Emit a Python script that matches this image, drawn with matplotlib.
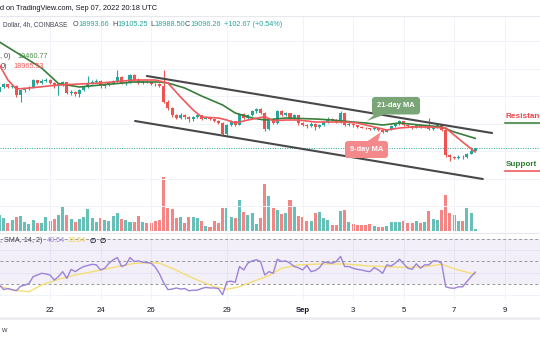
import numpy as np
import matplotlib
matplotlib.use("Agg")
import matplotlib.pyplot as plt
from matplotlib.patches import FancyBboxPatch, Polygon, Rectangle

plt.rcParams['font.family'] = ['Liberation Sans', 'DejaVu Sans']

W, H = 540, 340

# BTC/USD 4h candles, Aug 20 00:00 -> Sep 7 20:00 UTC
opens = [21160, 21340, 21420, 21330, 21380, 21020, 21210, 21260, 21300, 21570,
         21480, 21560, 21590, 21480, 21350, 21420, 21500, 21120, 21160, 21080,
         21210, 21330, 21480, 21520, 21560, 21350, 21420, 21470, 21540, 21700,
         21460, 21520, 21760, 21600, 21480, 21560, 21500, 21450, 21420, 21380,
         20800, 20560, 20300, 20200, 20320, 20240, 20150, 20250, 20300, 20180,
         20230, 20150, 20080, 20020, 19620, 19950, 20080, 19950, 20350, 20200,
         20300, 20450, 20520, 20380, 19800, 20150, 20020, 20450, 20320, 20370,
         20200, 20300, 20020, 19950, 19900, 20000, 19880, 19950, 20050, 20180,
         20120, 20050, 20380, 19950, 20000, 19930, 19880, 19850, 19820, 19790,
         19830, 19750, 19700, 19780, 19900, 19980, 20080, 19960, 19900, 19850,
         19930, 19860, 19920, 19800, 19880, 19950, 19780, 18850, 18780, 18760,
         18800, 18770, 18900, 18993.66]
highs = [21400, 21480, 21450, 21430, 21400, 21250, 21300, 21350, 21620, 21590,
         21610, 21650, 21620, 21500, 21450, 21560, 21520, 21220, 21200, 21260,
         21380, 21720, 21570, 21610, 21590, 21460, 21520, 21600, 21940, 21720,
         21560, 21800, 21800, 21640, 21600, 21590, 21540, 21490, 21460, 21950,
         20850, 20600, 20340, 20380, 20360, 20280, 20290, 20340, 20320, 20270,
         20250, 20180, 20110, 20060, 19990, 20120, 20100, 20400, 20380, 20340,
         20500, 20580, 20550, 20420, 20190, 20200, 20500, 20480, 20420, 20400,
         20350, 20320, 20060, 19990, 20040, 20030, 19990, 20090, 20230, 20210,
         20150, 20450, 20400, 20040, 20020, 19950, 19900, 19870, 19840, 19860,
         19850, 19780, 19810, 19940, 20020, 20120, 20100, 19980, 19920, 19960,
         19950, 19950, 20200, 19920, 19990, 19970, 19800, 18900, 18820, 18850,
         18840, 18940, 19150, 19105.25]
lows = [21100, 21300, 21280, 21290, 20960, 20790, 21160, 21220, 21280, 21440,
        21450, 21520, 21440, 21290, 21050, 21380, 21080, 21020, 21000, 20950,
        21180, 21300, 21430, 21480, 21300, 21300, 21380, 21430, 21500, 21420,
        21410, 21480, 21560, 21440, 21450, 21460, 21410, 21370, 21340, 20750,
        20500, 20220, 20150, 20170, 20180, 20050, 20100, 20210, 20140, 20150,
        20110, 20040, 19980, 19550, 19580, 19900, 19910, 19930, 20150, 20170,
        20260, 20400, 20330, 19720, 19760, 19980, 19990, 20280, 20290, 20160,
        20170, 19960, 19900, 19850, 19870, 19780, 19840, 19920, 20020, 20080,
        20010, 20030, 19910, 19920, 19890, 19850, 19820, 19790, 19760, 19760,
        19710, 19650, 19680, 19760, 19880, 19960, 19920, 19860, 19810, 19830,
        19830, 19840, 19770, 19780, 19850, 19740, 18800, 18650, 18700, 18720,
        18720, 18750, 18880, 18988.50]
closes = [21340, 21420, 21330, 21380, 21020, 21210, 21260, 21300, 21570, 21480,
          21560, 21590, 21480, 21350, 21420, 21500, 21120, 21160, 21080, 21210,
          21330, 21480, 21520, 21560, 21350, 21420, 21470, 21540, 21700, 21460,
          21520, 21760, 21600, 21480, 21560, 21500, 21450, 21420, 21380, 20800,
          20560, 20300, 20200, 20320, 20240, 20150, 20250, 20300, 20180, 20230,
          20150, 20080, 20020, 19620, 19950, 20080, 19950, 20350, 20200, 20300,
          20450, 20520, 20380, 19800, 20150, 20020, 20450, 20320, 20370, 20200,
          20300, 20020, 19950, 19900, 20000, 19880, 19950, 20050, 20180, 20120,
          20050, 20380, 19950, 20000, 19930, 19880, 19850, 19820, 19790, 19830,
          19750, 19700, 19780, 19900, 19980, 20080, 19960, 19900, 19850, 19930,
          19860, 19920, 19800, 19880, 19950, 19780, 18850, 18780, 18760, 18800,
          18770, 18900, 18993.59, 19096.26]
volumes = [1600, 1270, 830, 1100, 1370, 1500, 870, 700, 1100, 770,
           770, 1430, 1030, 1200, 1630, 2500, 1630, 1170, 870, 1230,
           1370, 2200, 1300, 930, 1300, 1100, 1030, 1500, 1770, 1200,
           1130, 900, 900, 1500, 870, 800, 830, 970, 1100, 5370,
           2330, 2200, 1330, 1430, 830, 1430, 1430, 1270, 1030, 530,
           430, 1000, 770, 2330, 2330, 1370, 1300, 3070, 1870, 1570,
           1770, 700, 1330, 4700, 3500, 2270, 2100, 1700, 1770, 3130,
           2500, 1500, 1430, 970, 1030, 1830, 1870, 1270, 1100, 600,
           570, 2000, 2070, 870, 730, 570, 600, 570, 700, 500,
           400, 430, 530, 900, 900, 900, 970, 830, 770, 1030,
           800, 870, 2000, 1200, 1100, 2100, 3570, 1830, 1600, 1030,
           970, 2300, 1830, 170]
rsi = [29, 25, 26, 25, 24, 28, 29, 30.5, 36.5, 38,
       39.5, 39, 38, 33.5, 36.5, 41, 35, 43, 41, 43.5,
       45.5, 46.5, 47.5, 47, 42.5, 44, 48.5, 51.5, 53.5, 45.5,
       47, 53.5, 50, 50.5, 49.5, 49, 48.5, 45, 39, 31,
       25, 25.5, 26.5, 25.5, 26, 24, 24.5, 24.5, 26, 27,
       26.5, 26.5, 26, 20.5, 32, 32.5, 31.5, 45.5, 42.5, 48.5,
       50.5, 51.5, 50, 38, 41, 39.5, 52, 50, 50.5, 48.5,
       45.5, 44.5, 42.5, 46.5, 41, 42, 44.5, 49.5, 49, 48.5,
       50, 54.5, 45.5, 45.5, 44, 43, 42.5, 41.5, 41, 44.5,
       42.5, 39.5, 47, 46, 48.5, 52, 48, 44, 43, 48,
       44, 47, 47, 50.5, 50.5, 48.5, 27.5, 26.5, 26.2, 27.5,
       27.5, 32, 36.5, 40.54]

# smoothed lines (candle index, value)
rsi_ma_idx = [0, 3, 7, 10, 14, 18, 24, 28, 32, 36, 38, 41, 46, 51, 54, 57, 60,
              64, 67, 71, 76, 82, 88, 96, 101, 105, 109, 113]
rsi_ma = [28.2, 24.7, 23.2, 29.1, 34.2, 38, 42.4, 45.4, 48.4, 48.9, 48.4, 44,
          35.1, 27.6, 25.3, 27.6, 32, 37.5, 44, 46.9, 47.8, 47.8, 46, 44.8,
          45.4, 47.5, 42.4, 38.54]
ma9_idx = [0, 2, 4, 7, 14, 24, 32, 37, 40, 43, 46, 48, 52, 54, 56, 59, 63, 65,
           68, 71, 75, 82, 85, 89, 92, 95, 98, 102, 106, 110, 113]
ma9 = [22127, 21582, 21254, 21291, 21400, 21473, 21582, 21582, 21473, 20963,
       20491, 20236, 20200, 20127, 20018, 20127, 20250, 20100, 20127, 20127,
       20054, 20054, 20018, 19873, 19764, 19836, 19873, 19873, 19836, 19327,
       18965.53]
ma21_idx = [0, 5, 10, 14, 19, 24, 32, 38, 40, 44, 48, 53, 56, 60, 63, 68, 75,
            79, 84, 87, 91, 95, 100, 105, 108, 113]
ma21 = [22963, 22491, 22018, 21454, 21327, 21400, 21509, 21509, 21473, 21291,
        21000, 20673, 20382, 20200, 20127, 20200, 20164, 20127, 20054, 20018,
        19945, 20018, 19945, 19873, 19691, 19460.77]

# descending channel drawn on the chart
upper_idx = [35.0, 117.0]
upper_px = [21727, 19654]
lower_idx = [32.2, 114.8]
lower_px = [20091, 17982]

tick_idx = [12, 24, 36, 54, 72, 84, 96, 108, 120]
tick_labels = ["22", "24", "26", "29", "Sep", "3", "5", "7", "9"]
price_grid = [17000, 18000, 19000, 20000, 21000, 22000, 23000]
rsi_grid = [20, 40, 60]

UP = "#26a69a"
DOWN = "#ef5350"
GRID = "#f0f3fa"
TXT = "#131722"
GREY = "#434651"


def fy(py):
    return 1 - py / H


fig = plt.figure(figsize=(W / 100, H / 100), dpi=100, facecolor="white")

x = np.arange(len(closes))
o = np.array(opens)
c = np.array(closes)
up = c >= o
cols = np.where(up, UP, DOWN)

xlim = (0.5 / 4.21, 540.5 / 4.21)

# volume underneath the price pane
vol = fig.add_axes([0, fy(232), 1, (232 - 16) / H])
vol.set_xlim(*xlim)
vol.set_ylim(-100, 21500)
vol.axis("off")
vol.bar(x, volumes, width=0.72, color=cols, alpha=0.7, lw=0)

ax = fig.add_axes([0, fy(232), 1, (232 - 16) / H])
ax.patch.set_visible(False)
ax.set_xlim(*xlim)
ax.set_ylim(16055, 23909)
ax.set_xticks([])
ax.set_yticks([])
for s in ax.spines.values():
    s.set_visible(False)
for p in price_grid:
    ax.axhline(p, color=GRID, lw=0.7, zorder=0)
for t in tick_idx:
    ax.axvline(t, color=GRID, lw=0.7, zorder=0)

ax.vlines(x, lows, highs, colors=cols, lw=0.8, zorder=2)
body_lo = np.minimum(o, c)
body_h = np.maximum(np.abs(c - o), 12)
ax.bar(x, body_h, bottom=body_lo, width=0.72, color=cols, lw=0, zorder=3)

ax.plot(ma21_idx, ma21, color="#3a7d3a", lw=1.2, zorder=4)
ax.plot(ma9_idx, ma9, color="#f0585b", lw=1.2, zorder=4)
ax.plot(upper_idx, upper_px, color="#484848", lw=1.5, zorder=5,
        solid_capstyle="round")
ax.plot(lower_idx, lower_px, color="#484848", lw=1.5, zorder=5,
        solid_capstyle="round")
ax.axhline(closes[-1], color=UP, lw=0.7, ls=(0, (1, 1.5)), zorder=1)

# RSI pane
ra = fig.add_axes([0, fy(300), 1, (300 - 233) / H])
ra.set_xlim(*xlim)
ra.set_ylim(15.8, 75.3)
ra.set_xticks([])
ra.set_yticks([])
for s in ra.spines.values():
    s.set_visible(False)
for g in rsi_grid:
    ra.axhline(g, color=GRID, lw=0.7, zorder=0)
for t in tick_idx:
    ra.axvline(t, color=GRID, lw=0.7, zorder=0)
ra.axhspan(30, 70, color="#7e57c2", alpha=0.09, lw=0, zorder=0)
for lvl in (70, 50, 30):
    ra.axhline(lvl, color="#9598a1", lw=0.7, dashes=(3, 2.5), zorder=1)
ra.plot(rsi_ma_idx, rsi_ma, color="#f4de74", lw=1.0, zorder=2)
ra.plot(x, rsi, color="#9c82d8", lw=1.0, zorder=3)

for t, lab in zip(tick_idx, tick_labels):
    ra.text(t, -0.15, lab, transform=ra.get_xaxis_transform(), ha="center",
            va="center", fontsize=5.6, color=TXT,
            fontweight="bold" if lab == "Sep" else "normal")

# overlay in pixel coordinates for labels and separators
ov = fig.add_axes([0, 0, 1, 1])
ov.set_xlim(0, W)
ov.set_ylim(H, 0)
ov.axis("off")
ov.set_zorder(10)

ov.plot([0, W], [16, 16], color="#e6e8ee", lw=0.8)
ov.plot([0, W], [232.8, 232.8], color="#e6e8ee", lw=0.8)
ov.add_patch(Rectangle((0, 317), W, 2.5, fc="#eceef2", ec="none"))

ov.text(0, 8, "d on TradingView.com, Sep 07, 2022 20:18 UTC", fontsize=5.3,
        color=TXT, va="center", ha="left")

change = closes[-1] - closes[-2]
ov.text(3, 25, "Dollar, 4h, COINBASE", fontsize=4.7, color=GREY,
        va="center", ha="left")
row = [("O", 73, GREY), (f"{opens[-1]:.2f}", 78.8, UP),
       ("H", 112, GREY), (f"{highs[-1]:.2f}", 117.4, UP),
       ("L", 150, GREY), (f"{lows[-1]:.2f}", 154.2, UP),
       ("C", 185, GREY), (f"{closes[-1]:.2f}", 190.4, UP),
       (f"+{change:.2f} (+{change / closes[-2] * 100:.2f}%)", 224.5, UP)]
for s, px, col in row:
    ov.text(px, 25, s, fontsize=5.2, color=col, va="center", ha="left")

ov.text(0, 56, ", 0)", fontsize=5.2, color=GREY, va="center")
ov.text(17, 56, f"{ma21[-1]:.2f}", fontsize=5.2, color="#4c8a48", va="center")
ov.text(1, 66, "0)", fontsize=5.2, color=GREY, va="center")
ov.text(13, 66, f"{ma9[-1]:.2f}", fontsize=5.2, color="#f0585b", va="center")

ov.text(0, 241, ", SMA, 14, 2)", fontsize=5.2, color=GREY, va="center")
ov.text(47, 241, f"{rsi[-1]:.2f}", fontsize=5.2, color="#9c82d8", va="center")
ov.text(68, 241, f"{rsi_ma[-1]:.2f}", fontsize=5.2, color="#e9cf55",
        va="center")
ov.text(90, 241, "\u2205", fontsize=5.2, color=TXT, va="center",
        fontweight="bold", family=["DejaVu Sans"])
ov.text(100, 241, "\u2205", fontsize=5.2, color=TXT, va="center",
        fontweight="bold", family=["DejaVu Sans"])

# moving average callouts
ov.add_patch(FancyBboxPatch((372, 97), 48, 17.5,
                            boxstyle="round,pad=0,rounding_size=3",
                            fc="#7aa677", ec="none"))
ov.add_patch(Polygon([(375, 114), (386, 114), (367, 121)], closed=True,
                     fc="#7aa677", ec="none"))
ov.text(396, 105.8, "21-day MA", fontsize=5.4, color="white",
        fontweight="bold", ha="center", va="center")

ov.add_patch(FancyBboxPatch((345, 141), 43, 17,
                            boxstyle="round,pad=0,rounding_size=3",
                            fc="#f3898b", ec="none"))
ov.add_patch(Polygon([(367, 141.5), (378, 141.5), (381, 132)], closed=True,
                     fc="#f3898b", ec="none"))
ov.text(366.5, 149.5, "9-day MA", fontsize=5.4, color="white",
        fontweight="bold", ha="center", va="center")

# the right-hand labels run off the edge of the chart
ov.text(506, 116.5, "Resistance", fontsize=5.9, color="#e8474c",
        fontweight="bold", ha="left", va="center")
ov.plot([505, W], [122.6, 122.6], color="#2f7d32", lw=1.1)
ov.text(506, 165, "Support", fontsize=5.9, color="#2f7d32",
        fontweight="bold", ha="left", va="center")
ov.plot([505, W], [171.2, 171.2], color="#ef4b50", lw=1.1)

ov.text(1, 330, "w", fontsize=5.4, color=GREY, va="center")

fig.savefig("out.png", dpi=100, facecolor="white")
